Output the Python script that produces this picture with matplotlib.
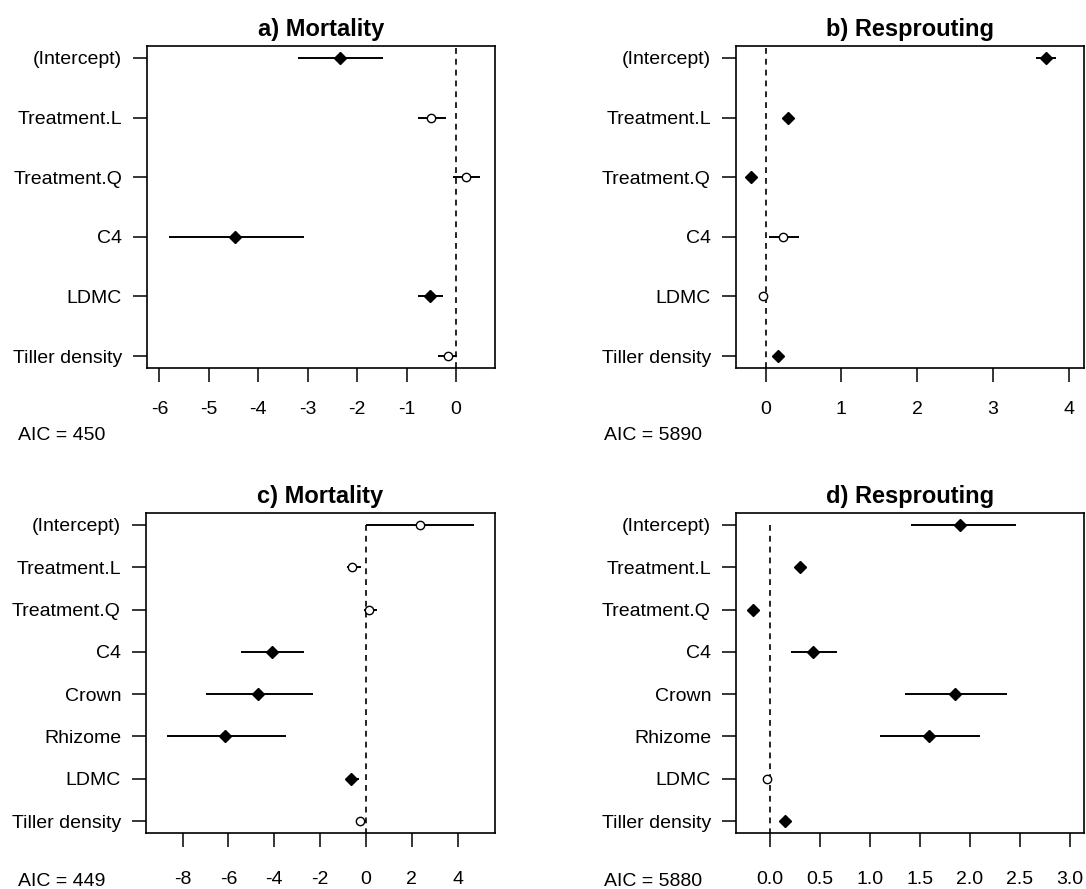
import numpy as np
import matplotlib
matplotlib.use("Agg")
import matplotlib.pyplot as plt

plt.rcParams["font.family"] = ["Liberation Sans", "DejaVu Sans"]

# ---------------------------
# Data: coefficient estimates with confidence intervals
# ---------------------------
terms_top = ["(Intercept)", "Treatment.L", "Treatment.Q", "C4", "LDMC", "Tiller density"]
terms_bottom = ["(Intercept)", "Treatment.L", "Treatment.Q", "C4", "Crown", "Rhizome",
                "LDMC", "Tiller density"]

# a) Mortality
mort_a_est = [-2.35, -0.50, 0.20, -4.46, -0.53, -0.16]
mort_a_lo = [-3.20, -0.77, -0.06, -5.80, -0.77, -0.37]
mort_a_hi = [-1.48, -0.20, 0.49, -3.08, -0.26, 0.02]
mort_a_sig = [True, False, False, True, True, False]

# b) Resprouting
resp_b_est = [3.70, 0.29, -0.19, 0.23, -0.03, 0.16]
resp_b_lo = [3.57, 0.24, -0.23, 0.04, -0.06, 0.12]
resp_b_hi = [3.83, 0.34, -0.15, 0.44, 0.00, 0.20]
resp_b_sig = [True, True, True, False, False, True]

# c) Mortality (with growth form)
mort_c_est = [2.36, -0.60, 0.13, -4.10, -4.71, -6.15, -0.65, -0.26]
mort_c_lo = [0.00, -0.83, -0.09, -5.45, -6.98, -8.68, -0.87, -0.44]
mort_c_hi = [4.71, -0.22, 0.48, -2.70, -2.31, -3.49, -0.30, 0.00]
mort_c_sig = [False, False, False, True, True, True, True, False]

# d) Resprouting (with growth form)
resp_d_est = [1.90, 0.30, -0.17, 0.43, 1.85, 1.59, -0.03, 0.15]
resp_d_lo = [1.41, 0.26, -0.21, 0.21, 1.35, 1.10, -0.05, 0.11]
resp_d_hi = [2.46, 0.34, -0.13, 0.67, 2.37, 2.10, -0.01, 0.19]
resp_d_sig = [True, True, True, True, True, True, False, True]

aic_values = [450, 5890, 449, 5880]
titles = ["a) Mortality", "b) Resprouting", "c) Mortality", "d) Resprouting"]

# ---------------------------
# Figure layout (axes placed to match the original R output)
# ---------------------------
fig = plt.figure(figsize=(10.86, 8.89), dpi=100)
W, H = 1086, 889


def add_box(l, t, r, b):
    return fig.add_axes([l / W, 1 - b / H, (r - l) / W, (b - t) / H])


panels = [
    (add_box(147, 46, 495, 368), terms_top, mort_a_est, mort_a_lo, mort_a_hi, mort_a_sig,
     (-6.25, 0.79), np.arange(-6, 1, 1), ["-6", "-5", "-4", "-3", "-2", "-1", "0"], False),
    (add_box(736, 46, 1084, 368), terms_top, resp_b_est, resp_b_lo, resp_b_hi, resp_b_sig,
     (-0.39, 4.2), np.arange(0, 5, 1), ["0", "1", "2", "3", "4"], False),
    (add_box(146, 513, 495, 833), terms_bottom, mort_c_est, mort_c_lo, mort_c_hi, mort_c_sig,
     (-9.6, 5.63), np.arange(-8, 5, 2), ["-8", "-6", "-4", "-2", "0", "2", "4"], True),
    (add_box(736, 513, 1084, 833), terms_bottom, resp_d_est, resp_d_lo, resp_d_hi, resp_d_sig,
     (-0.34, 3.14), np.arange(0, 3.01, 0.5), ["0.0", "0.5", "1.0", "1.5", "2.0", "2.5", "3.0"], True),
]

for i, (ax, terms, est, lo, hi, sig, xlim, xt, xtl, short_ref) in enumerate(panels):
    n = len(terms)
    pos = np.arange(1, n + 1)
    pad = 0.04 * (n - 1)

    # reference line at zero
    if short_ref:
        ax.vlines(0, 1, n + pad, colors="black", linestyles=(0, (3.5, 3)), linewidth=1.2, zorder=1)
    else:
        ax.axvline(0, color="black", linestyle=(0, (3.5, 3)), linewidth=1.2, zorder=1)

    ax.hlines(pos, lo, hi, colors="black", linewidth=1.4, zorder=2)
    for p, e, s in zip(pos, est, sig):
        if s:
            ax.plot(e, p, marker="D", markersize=6.5, color="black", zorder=3)
        else:
            ax.plot(e, p, marker="o", markersize=6, markerfacecolor="white",
                    markeredgecolor="black", markeredgewidth=1.0, zorder=3)

    ax.set_ylim(n + pad, 1 - pad)
    ax.set_xlim(*xlim)
    ax.set_yticks(pos)
    ax.set_yticklabels(terms)
    ax.set_xticks(xt)
    ax.set_xticklabels(xtl)
    ax.tick_params(axis="x", length=10, width=1.1, pad=14 if i < 2 else 17, labelsize=14)
    ax.tick_params(axis="y", length=10, width=1.1, pad=8, labelsize=14)
    for sp in ax.spines.values():
        sp.set_linewidth(1.2)
    ax.set_title(titles[i], fontsize=17, fontweight="bold", pad=7)

    # AIC note under the term labels
    x0 = 18 / W if i % 2 == 0 else 604 / W
    y0 = 1 - (435 / H if i < 2 else 881 / H)
    fig.text(x0, y0, f"AIC = {aic_values[i]}", fontsize=14, va="center", ha="left")

plt.savefig("out.png", dpi=100)
print("Saved out.png")
